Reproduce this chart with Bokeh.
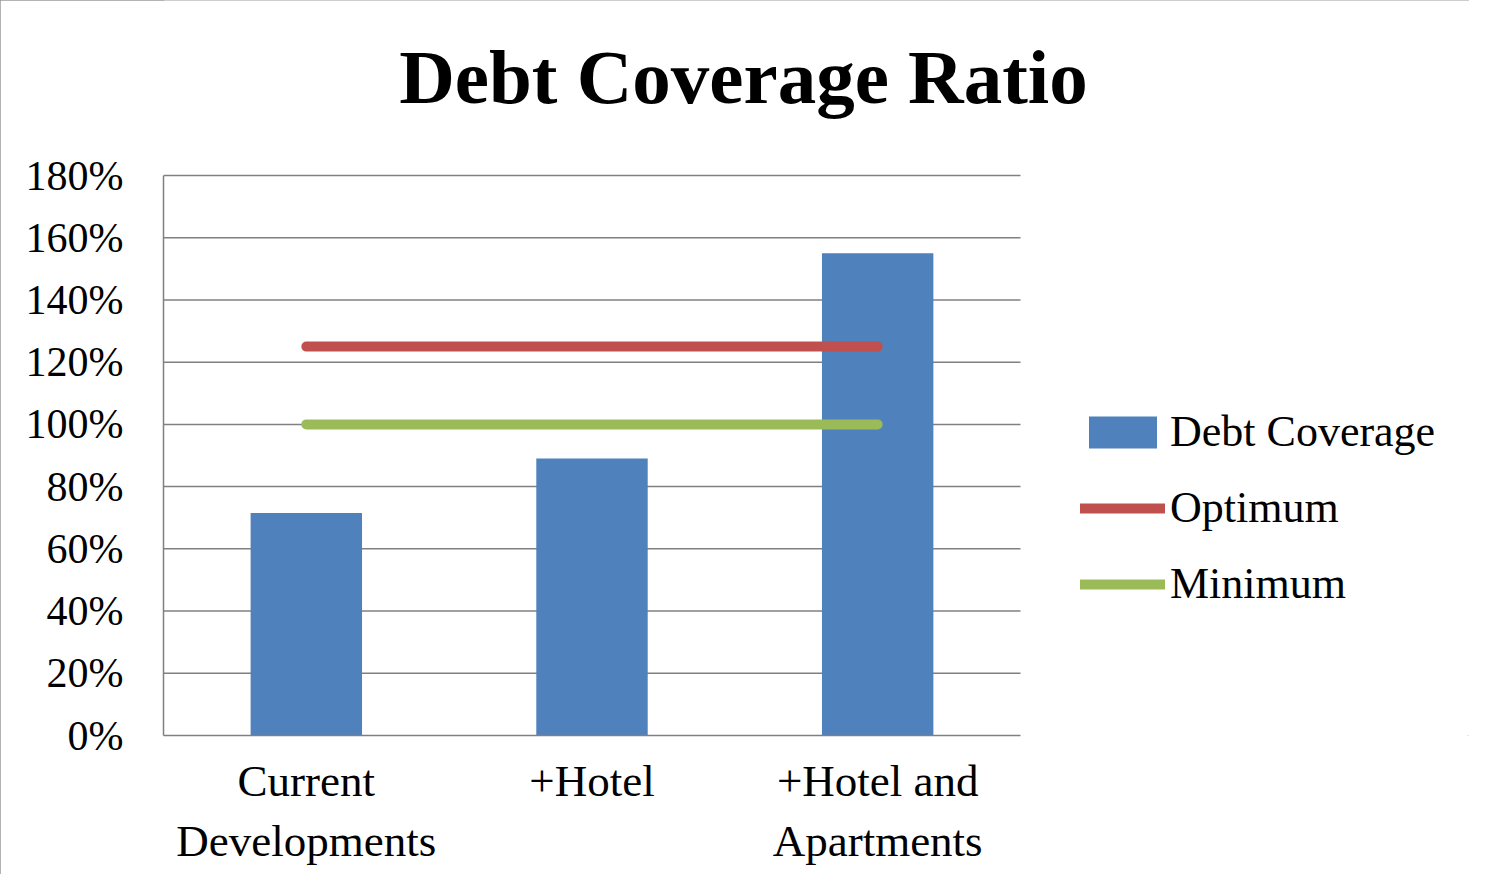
import numpy as np
from bokeh.plotting import figure
from bokeh.models import (Range1d, FixedTicker, NumeralTickFormatter,
                          Label, Legend, LegendItem, ColumnDataSource)
from bokeh.embed import file_html
from bokeh.resources import INLINE

categories = ["Current\nDevelopments", "+Hotel", "+Hotel and\nApartments"]
debt_coverage = [0.715, 0.89, 1.55]
optimum = [1.25, 1.25, 1.25]
minimum = [1.00, 1.00, 1.00]
y_ticks = [0, 0.2, 0.4, 0.6, 0.8, 1.0, 1.2, 1.4, 1.6, 1.8]

FONT = "Liberation Serif"
BLUE = "#4F81BD"
RED = "#C0504D"
GREEN = "#9BBB59"
GRID = "#808080"

W, H = 1469, 874
LEFT, BOTTOM = 163, 139
PLOT_W, PLOT_H = 857, 560         # size of the axes area in px
frame_w = W - LEFT                # frame extends to the right edge (legend lives there)
frame_h = H - BOTTOM              # and up to the top edge (title lives there)
n = len(categories)
x_pos = np.arange(n) + 0.5        # category centres

p = figure(width=W, height=H, output_backend="svg", toolbar_location=None,
           x_range=Range1d(0, n * frame_w / PLOT_W),
           y_range=Range1d(0, y_ticks[-1] * frame_h / PLOT_H),
           min_border_left=LEFT, min_border_right=0,
           min_border_top=0, min_border_bottom=BOTTOM)
p.outline_line_color = None
p.background_fill_color = "white"
p.border_fill_color = "white"
p.styles = {"outline": "2px solid #9a9a9a", "outline-offset": "-2px"}

src = ColumnDataSource(dict(x=x_pos, dc=debt_coverage, opt=optimum, mn=minimum))

# horizontal gridlines limited to the axes area
p.xgrid.grid_line_color = None
p.ygrid.grid_line_color = None
grid_y = y_ticks[1:]
p.segment(x0=[0] * len(grid_y), x1=[n] * len(grid_y), y0=grid_y, y1=grid_y,
          line_color=GRID, line_width=1.5)

bars = p.vbar(x="x", top="dc", width=0.39, source=src, fill_color=BLUE, line_color=None)
l_opt = p.line(x="x", y="opt", source=src, line_color=RED, line_width=10, line_cap="round")
l_min = p.line(x="x", y="mn", source=src, line_color=GREEN, line_width=10, line_cap="round")

# axes
p.xaxis.ticker = FixedTicker(ticks=list(x_pos))
p.xaxis.major_label_overrides = {float(xv): lab for xv, lab in zip(x_pos, categories)}
p.xaxis.bounds = (0, n)
p.yaxis.ticker = FixedTicker(ticks=y_ticks)
p.yaxis.formatter = NumeralTickFormatter(format="0%")
p.yaxis.bounds = (0, y_ticks[-1])
for ax in (p.xaxis, p.yaxis):
    ax.axis_line_color = GRID
    ax.axis_line_width = 1.5
    ax.major_tick_line_color = None
    ax.minor_tick_line_color = None
    ax.major_tick_out = 0
    ax.major_tick_in = 0
    ax.major_label_text_font = FONT
    ax.major_label_text_color = "black"
p.yaxis.major_label_text_font_size = "42px"
p.yaxis.major_label_standoff = 40
p.xaxis.major_label_text_font_size = "45px"
p.xaxis.major_label_standoff = 20

# title (centred over whole chart)
title = Label(x=580, y=659, x_units="screen", y_units="screen",
              text="Debt Coverage Ratio", text_align="center", text_baseline="alphabetic",
              text_font=FONT, text_font_style="bold", text_font_size="77px",
              text_color="black")
p.add_layout(title)

legend = Legend(items=[LegendItem(label="Debt Coverage", renderers=[bars]),
                       LegendItem(label="Optimum", renderers=[l_opt]),
                       LegendItem(label="Minimum", renderers=[l_min])],
                location=(917, 126), orientation="vertical",
                glyph_width=85, glyph_height=40, label_height=40, spacing=25,
                label_standoff=5, padding=0, margin=0,
                border_line_color=None, background_fill_alpha=0,
                label_text_font=FONT, label_text_font_size="44px", label_text_color="black")
p.add_layout(legend)

open("out.html", "w").write(file_html(p, INLINE))
